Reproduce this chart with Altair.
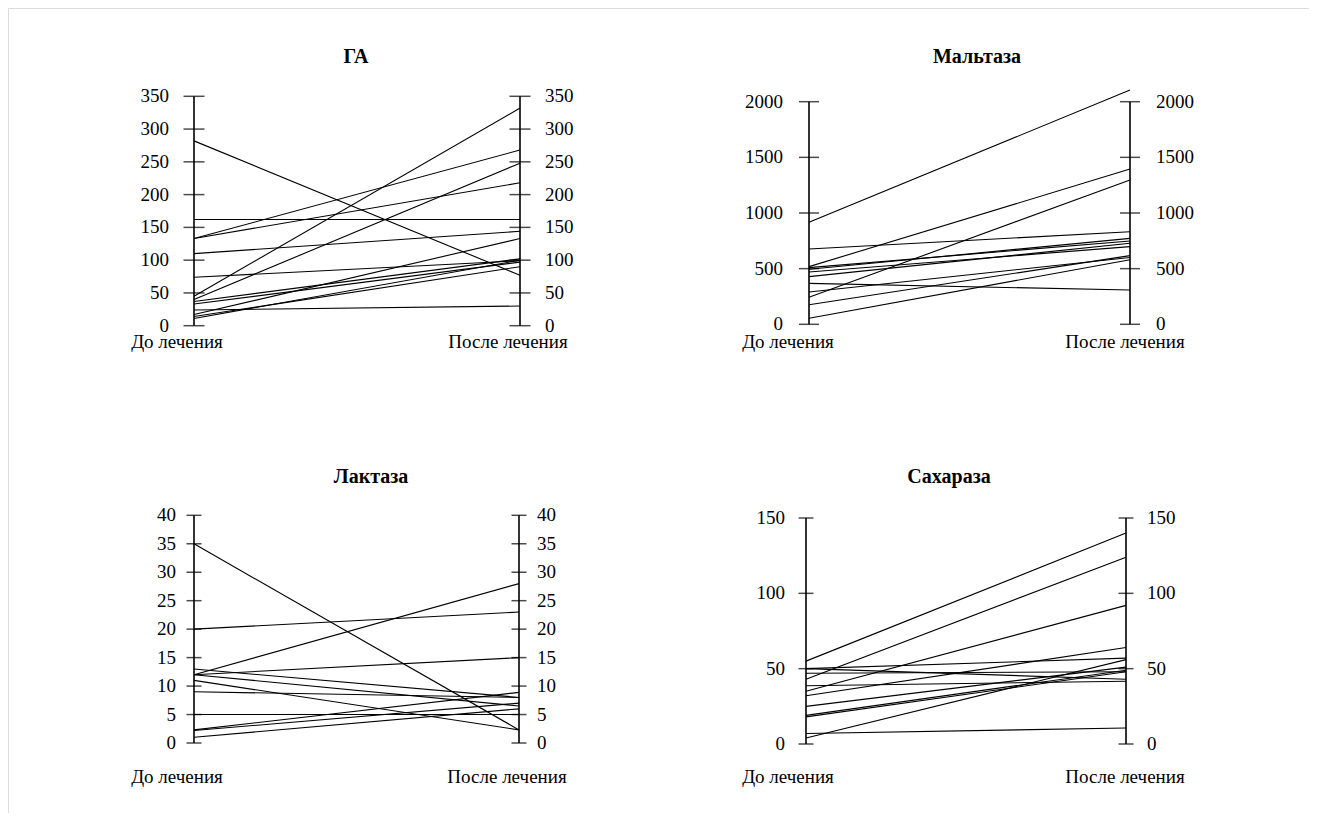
import altair as alt
import pandas as pd

# ---------------- data ----------------
phases = ["До лечения", "После лечения"]

ga_title = "ГА"
ga_before = [282, 162, 133, 133, 110, 74, 45, 40, 37, 33, 24, 17, 14, 11]
ga_after = [77, 162, 268, 218, 144, 99, 332, 248, 102, 97, 30, 133, 90, 100]
ga_ticks = [0, 50, 100, 150, 200, 250, 300, 350]

mal_title = "Мальтаза"
mal_before = [916, 518, 243, 677, 509, 494, 470, 428, 368, 290, 175, 55]
mal_after = [2105, 1395, 1296, 832, 749, 772, 698, 728, 308, 600, 617, 580]
mal_ticks = [0, 500, 1000, 1500, 2000]

lac_title = "Лактаза"
lac_before = [35, 20, 12, 12, 13, 12, 11, 9, 5, 2.3, 2.2, 1]
lac_after = [2.3, 23, 28, 15, 8, 6.5, 2.3, 8, 5, 8.9, 7, 6]
lac_ticks = [0, 5, 10, 15, 20, 25, 30, 35, 40]

suc_title = "Сахараза"
suc_before = [55, 43, 35, 32, 50, 50, 47, 38.7, 25, 19, 18, 4, 7]
suc_after = [140, 124, 92, 64, 57, 43, 48, 41.6, 51, 49, 48, 56, 10.6]
suc_ticks = [0, 50, 100, 150]

FONT = "Liberation Serif"
FS = 19
TFS = 20


def panel(title, before, after, ticks, xr, yr, tick_size, gap,
          title_xy, cat_y, cat_dx):
    xs = alt.Scale(domain=[0, 1], range=xr, nice=False, zero=False)
    ys = alt.Scale(domain=[0, ticks[-1]], range=yr, nice=False, zero=False)

    rows = []
    for i, (b, a) in enumerate(zip(before, after)):
        rows.append({"id": i, "phase": 0, "value": b})
        rows.append({"id": i, "phase": 1, "value": a})
    df = pd.DataFrame(rows)

    X = lambda: alt.X("phase:Q", scale=xs, axis=None)

    lines = alt.Chart(df).mark_line(color="black", strokeWidth=1.1).encode(
        x=X(), y=alt.Y("value:Q", scale=ys, axis=None), detail="id:N"
    )

    axdf = pd.DataFrame({"phase": [0, 1], "lo": [0, 0], "hi": [ticks[-1]] * 2})
    axes = alt.Chart(axdf).mark_rule(color="black", strokeWidth=1.6).encode(
        x=X(), y=alt.Y("lo:Q", scale=ys, axis=None), y2="hi:Q"
    )

    tdf = pd.DataFrame(
        [{"phase": p, "value": t, "label": str(t)} for p in (0, 1) for t in ticks]
    )
    tks = alt.Chart(tdf).mark_tick(
        orient="horizontal", size=tick_size, thickness=1.5, color="black"
    ).encode(x=X(), y=alt.Y("value:Q", scale=ys, axis=None))

    lab_l = alt.Chart(tdf).transform_filter("datum.phase == 0").mark_text(
        align="right", baseline="middle", dx=-gap, font=FONT, fontSize=FS, color="black"
    ).encode(x=X(), y=alt.Y("value:Q", scale=ys, axis=None), text="label:N")
    lab_r = alt.Chart(tdf).transform_filter("datum.phase == 1").mark_text(
        align="left", baseline="middle", dx=gap, font=FONT, fontSize=FS, color="black"
    ).encode(x=X(), y=alt.Y("value:Q", scale=ys, axis=None), text="label:N")

    cdf = pd.DataFrame({"phase": [0, 1], "label": phases})
    cat0 = alt.Chart(cdf).transform_filter("datum.phase == 0").mark_text(
        align="center", baseline="middle", dx=cat_dx[0], font=FONT, fontSize=FS,
        color="black"
    ).encode(x=X(), y=alt.value(cat_y), text="label:N")
    cat1 = alt.Chart(cdf).transform_filter("datum.phase == 1").mark_text(
        align="center", baseline="middle", dx=cat_dx[1], font=FONT, fontSize=FS,
        color="black"
    ).encode(x=X(), y=alt.value(cat_y), text="label:N")

    ttl = alt.Chart(pd.DataFrame({"t": [title]})).mark_text(
        align="center", baseline="middle", font=FONT, fontSize=TFS,
        fontWeight="bold", color="black"
    ).encode(x=alt.value(title_xy[0]), y=alt.value(title_xy[1]), text="t:N")

    return alt.layer(lines, axes, tks, lab_l, lab_r, cat0, cat1, ttl)


p1 = panel(ga_title, ga_before, ga_after, ga_ticks, [186, 512], [317.7, 88.3],
           21, 25, (348, 49), 334, (-17, -12))
p2 = panel(mal_title, mal_before, mal_after, mal_ticks, [801, 1122], [316.3, 93.7],
           20, 26, (969, 49), 334, (-21, -5))
p3 = panel(lac_title, lac_before, lac_after, lac_ticks, [186, 511], [735, 507.3],
           15, 18, (363, 469), 769, (-17, -12))
p4 = panel(suc_title, suc_before, suc_after, suc_ticks, [798, 1118], [736, 510],
           15, 21, (941, 469), 769, (-18, -1))

chart = alt.layer(p1, p2, p3, p4).resolve_scale(
    x="independent", y="independent"
).properties(
    width=1301, height=805, padding=0, autosize=alt.AutoSizeParams(type="none")
).configure_view(stroke="#999999", strokeWidth=2).configure(background="white")

chart.save("out.html", embed_options={"renderer": "svg", "actions": False})
